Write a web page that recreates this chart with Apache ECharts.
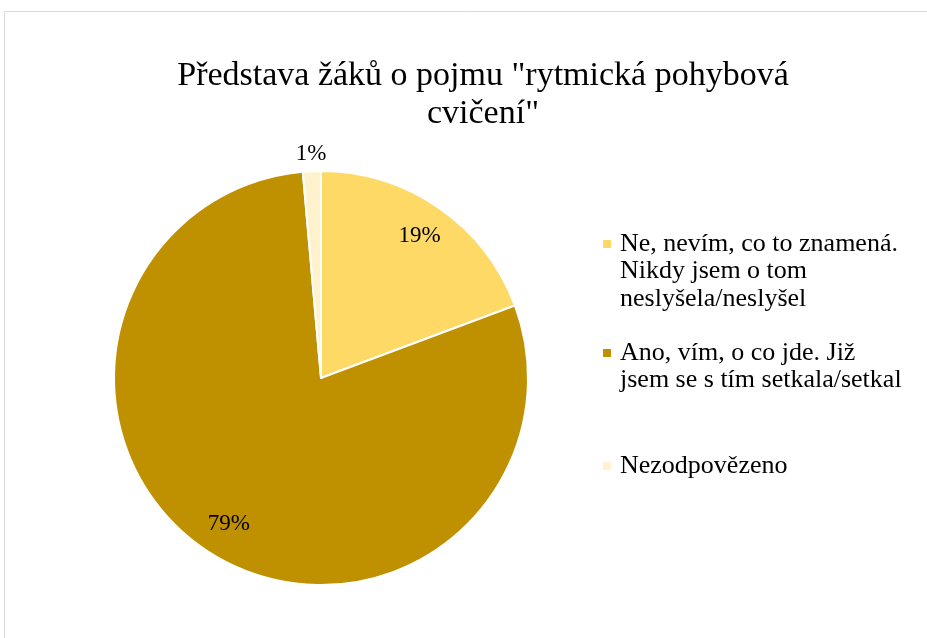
<!DOCTYPE html>
<html>
<head>
<meta charset="utf-8">
<script src="https://cdn.jsdelivr.net/npm/echarts@6/dist/echarts.min.js"></script>
<style>
html,body{margin:0;padding:0;background:#fff;}
#chart{width:927px;height:638px;}
</style>
</head>
<body>
<div id="chart"></div>
<script>
const titleText = 'Představa žáků o pojmu "rytmická pohybová\ncvičení"';
const categories = [
  'Ne, nevím, co to znamená. Nikdy jsem o tom neslyšela/neslyšel',
  'Ano, vím, o co jde. Již jsem se s tím setkala/setkal',
  'Nezodpovězeno'
];
const values = [19.3, 79.3, 1.4];
const legendLines = [
  ['Ne, nevím, co to znamená.', 'Nikdy jsem o tom', 'neslyšela/neslyšel'],
  ['Ano, vím, o co jde. Již', 'jsem se s tím setkala/setkal'],
  ['Nezodpovězeno']
];
const colors = ['#FFD966', '#BF9000', '#FFF2CC'];

const FONT = '"Liberation Serif", "Times New Roman", serif';
const LH = 27.5;
const legendIconY = [244, 353, 466];
const CENTER = [321, 378];
const R = 207;

const pct = p => Math.round(p) + '%';

const mainData = categories.map((n, i) => ({
  name: n, value: values[i], itemStyle: { color: colors[i] }
}));
const innerLabelData = categories.map((n, i) => ({
  name: n, value: values[i],
  label: { show: values[i] >= 5 }
}));
const outerLabelData = categories.map((n, i) => ({
  name: n, value: values[i],
  label: { show: values[i] < 5 }
}));

// Leading empty lines keep the marker level with the first text line.
const legends = categories.map((n, i) => {
  const k = legendLines[i].length;
  return {
    data: [{ name: n, icon: 'rect' }],
    orient: 'vertical',
    left: 601,
    top: legendIconY[i] - (2 * k - 1) * LH / 2,
    padding: 0,
    itemWidth: 10,
    itemHeight: 10,
    selectedMode: false,
    formatter: () => '\n'.repeat(k - 1) + legendLines[i].join('\n'),
    textStyle: { fontFamily: FONT, fontSize: 26, color: '#000', lineHeight: LH, padding: [0, 0, 0, 3] }
  };
});

const labelSeriesBase = {
  type: 'pie',
  center: CENTER,
  startAngle: 90,
  clockwise: true,
  silent: true,
  avoidLabelOverlap: false,
  itemStyle: { color: 'rgba(0,0,0,0)', borderWidth: 0 },
  emphasis: { disabled: true },
  labelLine: { show: false },
  label: {
    position: 'inside',
    formatter: p => pct(p.percent),
    fontFamily: FONT, fontSize: 23, color: '#000'
  }
};

const chart = echarts.init(document.getElementById('chart'), null, { renderer: 'canvas' });
chart.setOption({
  backgroundColor: '#fff',
  animation: false,
  title: {
    text: titleText,
    left: 478,
    textAlign: 'center',
    top: 52,
    textStyle: { fontFamily: FONT, fontSize: 34, fontWeight: 'normal', color: '#000', lineHeight: 38 }
  },
  legend: legends,
  graphic: [{
    type: 'rect', silent: true, z: -10,
    shape: { x: 4.5, y: 11.5, width: 1000, height: 1000 },
    style: { fill: 'none', stroke: '#d9d9d9', lineWidth: 1 }
  }],
  series: [
    {
      type: 'pie',
      center: CENTER,
      radius: [0, R],
      startAngle: 90,
      clockwise: true,
      data: mainData,
      label: { show: false },
      labelLine: { show: false },
      itemStyle: { borderColor: '#fff', borderWidth: 2 },
      emphasis: { disabled: true }
    },
    Object.assign({}, labelSeriesBase, { radius: [133, R], data: innerLabelData }),
    Object.assign({}, labelSeriesBase, { radius: [R, 235], data: outerLabelData })
  ]
});
</script>
</body>
</html>
